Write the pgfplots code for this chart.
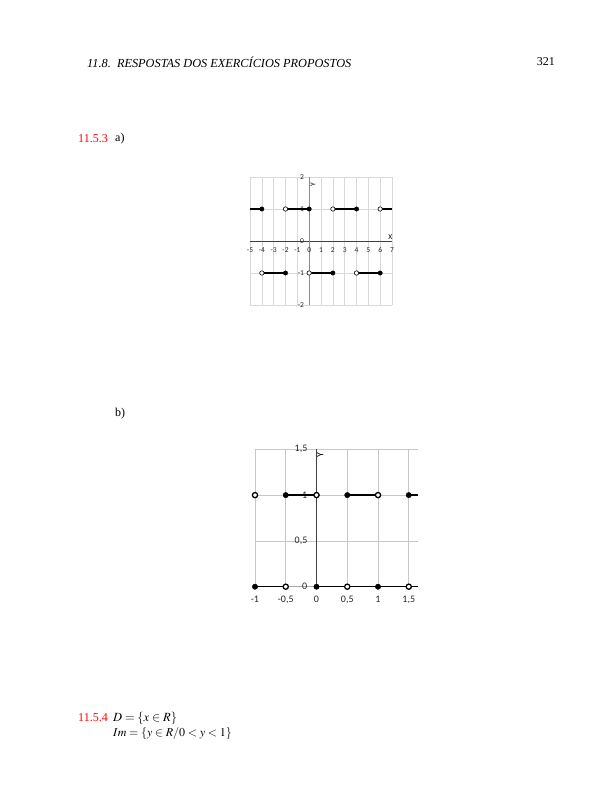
\documentclass[border=0pt]{standalone}
\usepackage{mathptmx}
\usepackage{fontspec}
\setmainfont{Liberation Serif}
\newfontfamily\calibri{Carlito}
\usepackage{pgfplots}
\pgfplotsset{compat=1.18}
\definecolor{gridc}{HTML}{D9D9D9}
\definecolor{pagered}{HTML}{FF0000}
\begin{document}
\begin{tikzpicture}[x=1pt,y=1pt]
\path[use as bounding box] (0pt,0pt) rectangle (612pt,-792pt);
% page text
\node[anchor=west,inner sep=0pt,font=\fontsize{12.3}{14}\selectfont\itshape] at (87pt,-62pt) {11.8.\ \ RESPOSTAS DOS EXERCÍCIOS PROPOSTOS};
\node[anchor=east,inner sep=0pt,font=\fontsize{12}{14}\selectfont] at (555pt,-62pt) {321};
\node[anchor=west,inner sep=0pt,text=pagered,font=\fontsize{12}{14}\selectfont] at (78pt,-139pt) {11.5.3};
\node[anchor=west,inner sep=0pt,font=\fontsize{12}{14}\selectfont] at (115pt,-139pt) {a)};
\node[anchor=west,inner sep=0pt,font=\fontsize{12}{14}\selectfont] at (115pt,-414pt) {b)};
\node[anchor=west,inner sep=0pt,text=pagered,font=\fontsize{12}{14}\selectfont] at (78pt,-718pt) {11.5.4};
\node[anchor=west,inner sep=0pt,font=\fontsize{12.5}{14}\selectfont] at (113pt,-718pt) {$D=\{x\in R\}$};
\node[anchor=west,inner sep=0pt,font=\fontsize{12}{14}\selectfont] at (113pt,-733.5pt) {$Im=\{y\in R/0<y<1\}$};

% chart a
\begin{axis}[at={(250pt,-305pt)}, anchor=south west, scale only axis,
  width=142pt, height=128pt,
  xmin=-5, xmax=7, ymin=-2, ymax=2,
  axis lines=middle,
  xtick={-5,-4,-3,-2,-1,0,1,2,3,4,5,6,7},
  xticklabels={-5,-4,-3,-2,-1,0,1,2,3,4,5,6,7},
  ytick={-2,-1,0,1,2},
  yticklabels={-2,-1,0,1,2},
  grid=major, grid style={draw=gridc, line width=0.6pt},
  major tick length=0pt,
  hide obscured x ticks=false, hide obscured y ticks=false,
  ticklabel style={font=\calibri\fontsize{7.5}{8}\selectfont, text=black!85},
  xticklabel style={inner sep=1pt, yshift=-5pt},
  yticklabel style={inner sep=1pt, xshift=-4pt},
  x axis line style={draw=black!75, line width=0.8pt, -},
  y axis line style={draw=black!45, line width=1.1pt, -},
  clip=false, unbounded coords=jump]
\addplot[black, line width=1.2pt, no marks] coordinates {
 (-5,1) (-4,1) (-4,nan) (-2,1) (0,1) (0,nan) (2,1) (4,1) (4,nan) (6,1) (7,1) (7,nan)
 (-4,-1) (-2,-1) (-2,nan) (0,-1) (2,-1) (2,nan) (4,-1) (6,-1)};
\addplot[only marks, mark=*, mark size=2.2pt, mark options={fill=black, draw=black}] coordinates {
 (-4,1) (0,1) (4,1) (-2,-1) (2,-1) (6,-1)};
\addplot[only marks, mark=*, mark size=2.2pt, mark options={fill=white, draw=black, line width=0.6pt}] coordinates {
 (-2,1) (2,1) (6,1) (-4,-1) (0,-1) (4,-1)};
\node[anchor=south, inner sep=0pt, font=\calibri\fontsize{7.5}{8}\selectfont] at (axis cs:6.85,0.03) {X};
\node[rotate=90, inner sep=0pt, font=\calibri\fontsize{7.5}{8}\selectfont] at (axis cs:0.33,1.75) {Y};
\end{axis}

% chart b
\begin{axis}[at={(255pt,-586.7pt)}, anchor=south west, scale only axis,
  width=163pt, height=137.4pt,
  xmin=-1, xmax=1.65, ymin=0, ymax=1.5,
  axis lines=middle,
  xtick={-1,-0.5,0,0.5,1,1.5},
  xticklabels={-1,{-0,5},0,{0,5},1,{1,5}},
  ytick={0,0.5,1,1.5},
  yticklabels={0,{0,5},1,{1,5}},
  grid=major, grid style={draw=black!22, line width=0.7pt},
  major tick length=0pt,
  hide obscured x ticks=false, hide obscured y ticks=false,
  ticklabel style={font=\calibri\fontsize{10}{11}\selectfont, text=black!85},
  xticklabel style={inner sep=1pt, yshift=-8pt},
  yticklabel style={inner sep=1pt, xshift=-8pt},
  x axis line style={draw=black!35, line width=0.8pt, -},
  y axis line style={draw=black!75, line width=1.1pt, -},
  clip=false, unbounded coords=jump]
\addplot[black, line width=1.5pt, no marks] coordinates {
 (-1,0) (-0.5,0) (-0.5,nan) (0,0) (1.65,0) (1.65,nan)
 (-0.5,1) (0,1) (0,nan) (0.5,1) (1,1) (1,nan) (1.5,1) (1.65,1)};
\addplot[only marks, mark=*, mark size=2.7pt, mark options={fill=black, draw=black}] coordinates {
 (-1,0) (0,0) (1,0) (-0.5,1) (0.5,1) (1.5,1)};
\addplot[only marks, mark=*, mark size=2.6pt, mark options={fill=white, draw=black, line width=1.3pt}] coordinates {
 (-0.5,0) (0.5,0) (1.5,0) (-1,1) (0,1) (1,1)};
\node[rotate=90, inner sep=0pt, font=\calibri\fontsize{10}{11}\selectfont] at (axis cs:0.06,1.44) {Y};
\end{axis}
\end{tikzpicture}
\end{document}
